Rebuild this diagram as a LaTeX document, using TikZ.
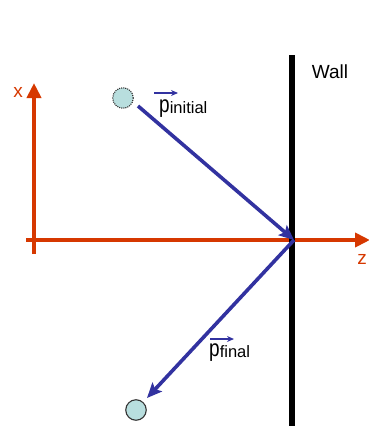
\documentclass[tikz,border=0pt]{standalone}
\usepackage{fontspec}
\setmainfont{Liberation Sans}
\usetikzlibrary{arrows.meta}
\definecolor{axiscol}{RGB}{214,56,0}
\definecolor{momcol}{RGB}{50,50,160}
\definecolor{ballcol}{RGB}{184,222,222}
\tikzset{
  axis/.style={axiscol, line width=3.8pt, -{Triangle[length=15pt,width=14pt]}},
  mom/.style={momcol, line width=3.6pt, -{Stealth[length=15pt,width=13pt,inset=3pt]}},
  ball/.style={circle, draw=black!80, fill=ballcol, minimum size=20.5pt, inner sep=0pt, line width=1.1pt},
  veclbl/.style={font=\fontsize{19}{22}\selectfont, inner sep=0pt, anchor=base west},
  axlbl/.style={text=axiscol, font=\fontsize{19}{21}\selectfont, inner sep=0pt},
  overarrow/.style={momcol, line width=1.3pt, -{Stealth[length=7pt,width=6pt]}}
}
\newcommand{\vecp}{\scalebox{1}[1.25]{p}}
\newcommand{\subtxt}[1]{\raisebox{-1.5pt}{\fontsize{16.5}{18}\selectfont #1}}
\begin{document}
\begin{tikzpicture}[x=1pt,y=-1pt]
\useasboundingbox (0,0) rectangle (369,426);
% axes
\coordinate (xb) at (34,254);
\coordinate (xt) at (34,83);
\coordinate (zl) at (26,240);
\coordinate (zr) at (370,240);
\draw[axis] (xb) -- (xt);
\draw[axis] (zl) -- (zr);
\node[axlbl] (xl) at (18,92) {x};
\node[axlbl] (zlab) at (362,259) {z};
% wall
\coordinate (wt) at (292,55);
\coordinate (wb) at (292,426);
\draw[black, line width=6pt] (wt) -- (wb);
\node[font=\fontsize{19}{21}\selectfont, inner sep=0pt] (walllbl) at (330,72) {Wall};
% balls
\node[ball, densely dotted] (b1) at (123,98) {};
\node[ball] (b2) at (136,410) {};
% momentum arrows
\coordinate (hit) at (294,240);
\coordinate (s1) at (138,106);
\coordinate (e2) at (147,398);
\draw[mom] (s1) -- (hit);
\draw[mom] (hit) -- (e2);
% labels
\node[veclbl] (pi) at (159,112) {\vecp\subtxt{initial}};
\coordinate (pia) at (154,93);
\coordinate (pib) at (178,93);
\draw[overarrow] (pia) -- (pib);
\node[veclbl] (pf) at (209,356) {\vecp\subtxt{final}};
\coordinate (pfa) at (210,339);
\coordinate (pfb) at (234,339);
\draw[overarrow] (pfa) -- (pfb);
\end{tikzpicture}
\end{document}
